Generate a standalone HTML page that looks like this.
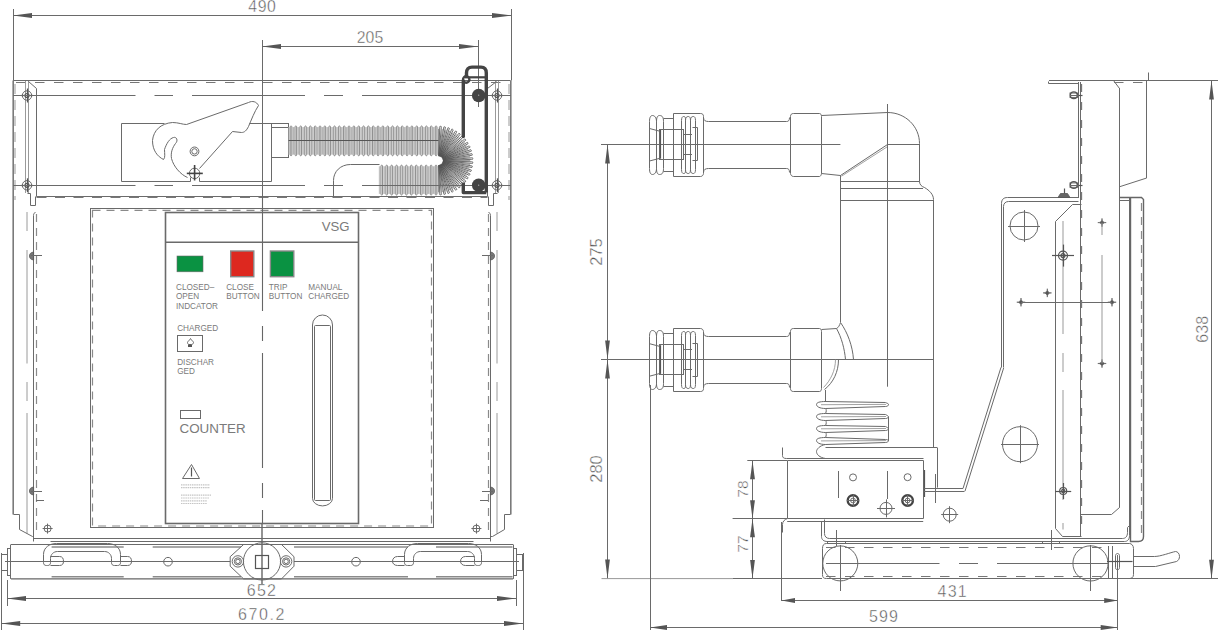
<!DOCTYPE html><html><head><meta charset="utf-8"><style>
html,body{margin:0;padding:0;background:#fff;width:1218px;height:630px;overflow:hidden}
svg{display:block;position:absolute;left:0;top:0}
.s{stroke:#6a6a6a;stroke-width:1;fill:none}
.sl{stroke:#8a8a8a;stroke-width:0.8;fill:none}
.s2{stroke:#7a7a7a;stroke-width:1.6;fill:none}
.s15{stroke:#666;stroke-width:1.4;fill:none}
.sd{stroke:#555;stroke-width:1.2;fill:none}
.sp{stroke:#6a6a6a;stroke-width:1.6;fill:none}
.dsh{stroke:#777;stroke-width:1.1;fill:none;stroke-dasharray:9.5 9.5}
.dsh2{stroke:#8a8a8a;stroke-width:1.2;fill:none;stroke-dasharray:8 6}
.dsh3{stroke:#999;stroke-width:1;fill:none;stroke-dasharray:10 6}
.nut{fill:none;stroke:#555;stroke-width:0.9}
.dsh4{stroke:#777;stroke-width:1.3;fill:none;stroke-dasharray:8 10}
.sl2{stroke:#999;stroke-width:1;fill:none}
.nutf{fill:#666;stroke:#555;stroke-width:0.8}
.rl{stroke:#8a8a8a;stroke-width:1.6;fill:none}
.wfs{fill:none;stroke:#6a6a6a;stroke-width:1}
.dsh5{stroke:#777;stroke-width:1.5;fill:none;stroke-dasharray:10 8.5}
.sl3{stroke:#9a9a9a;stroke-width:1;fill:none}
.sdk{stroke:#444;stroke-width:1.6;fill:none}
.blob{fill:#777;stroke:#555;stroke-width:0.8}
.ldsh{stroke:#888;stroke-width:1;fill:none;stroke-dasharray:50 18}
.cl{stroke:#666;stroke-width:1;fill:none;stroke-dasharray:113 19 19 19;stroke-dashoffset:9}
.cl2{stroke:#777;stroke-width:1;fill:none;stroke-dasharray:40 12 20 12}
.cld{stroke:#666;stroke-width:1.1;fill:none;stroke-dasharray:115 15 15 12}
.ar{fill:#555;stroke:none}
.tx{fill:#555;font-family:"Liberation Sans",sans-serif;stroke:#fff;stroke-width:0.4}
.tl{fill:#7a7a7a;font-family:"Liberation Sans",sans-serif}
.bfill{fill:#dcdcdc;stroke:none}
.bridge{fill:#fff;stroke:#5a5a5a;stroke-width:0.65}
.fan2{stroke:#555;stroke-width:0.6;fill:none}
.wfill{fill:#fff;stroke:none}
.wdot{fill:#bbb;stroke:none}
.bl{stroke:#888;stroke-width:0.7}
.bl2{stroke:#8a8a8a;stroke-width:0.5;fill:none}
.bs{stroke:#777;stroke-width:0.8;fill:none}
.fan{stroke:#4a4a4a;stroke-width:0.8;fill:none}
.thk{stroke:#444;stroke-width:3.4;fill:none;stroke-linejoin:round}
.thk2{stroke:#444;stroke-width:2.2;fill:none}
.thk15{stroke:#444;stroke-width:2.4;fill:none}
.dk{fill:#444;stroke:none}
.dkf{fill:#555;stroke:none}
.w{stroke:#999;stroke-width:0.6}
.grn{fill:#0a9242;stroke:#6a6a6a;stroke-width:0.6}
.grn2{fill:#0a9242;stroke:#888;stroke-width:1.4}
.red{fill:#dd281f;stroke:#888;stroke-width:1.4}
.tiny{stroke:#c4c4c4;stroke-width:1.2;stroke-dasharray:1.5 0.7}
.starf{fill:#555;stroke:#555;stroke-width:0.6}
</style></head><body><svg width="1218" height="630" viewBox="0 0 1218 630"><line x1="13.5" y1="9" x2="13.5" y2="80.5" class="s" />
<line x1="511.5" y1="9" x2="511.5" y2="80.5" class="s" />
<line x1="13" y1="15.5" x2="511" y2="15.5" class="s" />
<polygon points="13,15.5 32,13.1 32,17.9" class="ar"/>
<polygon points="511,15.5 492,13.1 492,17.9" class="ar"/>
<text x="262.3" y="11.6" font-size="15.8" text-anchor="middle" class="tx" letter-spacing="0.5">490</text>
<line x1="262.5" y1="40" x2="262.5" y2="196" class="s" />
<line x1="478.5" y1="40" x2="478.5" y2="107" class="s" />
<line x1="262" y1="46.5" x2="478" y2="46.5" class="s" />
<polygon points="262,46.5 281,44.1 281,48.9" class="ar"/>
<polygon points="478,46.5 459,44.1 459,48.9" class="ar"/>
<text x="370" y="42.8" font-size="15.8" text-anchor="middle" class="tx" >205</text>
<line x1="7.5" y1="580" x2="7.5" y2="606" class="s" />
<line x1="516.5" y1="580" x2="516.5" y2="606" class="s" />
<line x1="7" y1="598.5" x2="516" y2="598.5" class="s" />
<polygon points="7,598.5 26,596.1 26,600.9" class="ar"/>
<polygon points="516,598.5 497,596.1 497,600.9" class="ar"/>
<text x="262" y="595.8" font-size="16" text-anchor="middle" class="tx" letter-spacing="1.2">652</text>
<line x1="1.5" y1="553" x2="1.5" y2="630" class="s" />
<line x1="523.5" y1="553" x2="523.5" y2="630" class="s" />
<line x1="1.2" y1="623.5" x2="523" y2="623.5" class="s" />
<polygon points="1.2,623.5 20.2,621.1 20.2,625.9" class="ar"/>
<polygon points="523,623.5 504,621.1 504,625.9" class="ar"/>
<text x="262" y="619.8" font-size="16" text-anchor="middle" class="tx" letter-spacing="1.6">670.2</text>
<line x1="13" y1="80.5" x2="510.5" y2="80.5" class="s" />
<line x1="16" y1="82.5" x2="508" y2="82.5" class="dsh" />
<line x1="13.2" y1="80.5" x2="13.2" y2="514.5" class="s2" />
<line x1="15" y1="84" x2="15" y2="200" class="dsh3" />
<line x1="510.8" y1="80.5" x2="510.8" y2="514.5" class="s2" />
<line x1="509" y1="84" x2="509" y2="200" class="dsh3" />
<line x1="25.5" y1="81" x2="25.5" y2="193" class="sl3" />
<line x1="28.5" y1="81" x2="28.5" y2="193" class="sl3" />
<path d="M28.5,81.5 L36.5,88.5 V196.5" class="s" />
<path d="M27.5,193.5 H30.5 V205.5 H35.5 V196.5" class="s" />
<line x1="498.5" y1="81" x2="498.5" y2="193" class="sl3" />
<line x1="495.5" y1="81" x2="495.5" y2="193" class="sl3" />
<path d="M496.5,81.5 L487.5,88.5 V196.5" class="s" />
<path d="M497.5,193.5 H493.5 V205.5 H488.5 V196.5" class="s" />
<circle cx="27" cy="95.5" r="4.7" class="s" />
<circle cx="27" cy="95.5" r="2" class="sd" />
<line x1="21" y1="95.5" x2="33" y2="95.5" class="sd" />
<line x1="27.5" y1="88.5" x2="27.5" y2="102.5" class="sd" />
<circle cx="27" cy="185.3" r="4.7" class="s" />
<circle cx="27" cy="185.3" r="2" class="sd" />
<line x1="21" y1="185.5" x2="33" y2="185.5" class="sd" />
<line x1="27.5" y1="178.3" x2="27.5" y2="192.3" class="sd" />
<circle cx="497" cy="95.5" r="4.7" class="s" />
<circle cx="497" cy="95.5" r="2" class="sd" />
<line x1="491" y1="95.5" x2="503" y2="95.5" class="sd" />
<line x1="497.5" y1="88.5" x2="497.5" y2="102.5" class="sd" />
<circle cx="497" cy="185.3" r="4.7" class="s" />
<circle cx="497" cy="185.3" r="2" class="sd" />
<line x1="491" y1="185.5" x2="503" y2="185.5" class="sd" />
<line x1="497.5" y1="178.3" x2="497.5" y2="192.3" class="sd" />
<line x1="36.5" y1="196.5" x2="487.5" y2="196.5" class="s" />
<line x1="36.5" y1="197.3" x2="487.5" y2="197.3" class="dsh5" />
<path d="M164.5,123.5 H121.5 V181.5 H190.5 V177.5 M199.5,177.5 V181.5 H271.5 V123.5 H249.5" class="s" />
<path d="M163.5,159.5 C157.5,156.5 152.5,150.5 152.5,140.5 C153.5,130.5 160.5,123.5 172.5,122.5 C178.5,122.5 182.5,124.5 186.5,124.5 L248.5,102.5 C252.5,100.5 256.5,101.5 258.5,105.5 C254.5,111.5 251.5,119.5 248.5,126.5 C246.5,130.5 244.5,132.5 241.5,132.5 C238.5,132.5 235.5,131.5 232.5,131.5 L199.5,168.5 M187.5,177.5 C180.5,174.5 173.5,166.5 171.5,158.5 C170.5,152.5 172.5,147.5 175.5,143.5 C178.5,140.5 176.5,136.5 173.5,137.5 C169.5,138.5 166.5,143.5 164.5,149.5 C164.5,153.5 165.5,157.5 163.5,159.5" class="s" />
<circle cx="194.5" cy="151.4" r="4.4" class="s" />
<circle cx="194.5" cy="151.4" r="2.7" class="s" />
<circle cx="194.6" cy="173.4" r="5.2" class="s" />
<line x1="186.8" y1="173.4" x2="202.8" y2="173.4" class="sdk" />
<line x1="194.6" y1="165" x2="194.6" y2="180.5" class="sdk" />
<rect x="271.5" y="123.5" width="17" height="34" class="s" />
<line x1="271.4" y1="127.5" x2="288.6" y2="127.5" class="s" />
<path d="M333.5,197.5 V180.5 C333.5,171.5 340.5,164.5 350.5,164.5 H379.5" class="s" />
<rect x="288.6" y="127" width="149.9" height="27.7" class="bfill" />
<path d="M290.27,155 V126.7 A0.75,0.75 0 0 1 291.77,126.7 V155 A0.75,0.75 0 0 1 290.27,155 Z M295.1,155 V126.7 A0.75,0.75 0 0 1 296.6,126.7 V155 A0.75,0.75 0 0 1 295.1,155 Z M299.94,155 V126.7 A0.75,0.75 0 0 1 301.44,126.7 V155 A0.75,0.75 0 0 1 299.94,155 Z M304.77,155 V126.7 A0.75,0.75 0 0 1 306.27,126.7 V155 A0.75,0.75 0 0 1 304.77,155 Z M309.61,155 V126.7 A0.75,0.75 0 0 1 311.11,126.7 V155 A0.75,0.75 0 0 1 309.61,155 Z M314.45,155 V126.7 A0.75,0.75 0 0 1 315.95,126.7 V155 A0.75,0.75 0 0 1 314.45,155 Z M319.28,155 V126.7 A0.75,0.75 0 0 1 320.78,126.7 V155 A0.75,0.75 0 0 1 319.28,155 Z M324.12,155 V126.7 A0.75,0.75 0 0 1 325.62,126.7 V155 A0.75,0.75 0 0 1 324.12,155 Z M328.95,155 V126.7 A0.75,0.75 0 0 1 330.45,126.7 V155 A0.75,0.75 0 0 1 328.95,155 Z M333.79,155 V126.7 A0.75,0.75 0 0 1 335.29,126.7 V155 A0.75,0.75 0 0 1 333.79,155 Z M338.62,155 V126.7 A0.75,0.75 0 0 1 340.12,126.7 V155 A0.75,0.75 0 0 1 338.62,155 Z M343.46,155 V126.7 A0.75,0.75 0 0 1 344.96,126.7 V155 A0.75,0.75 0 0 1 343.46,155 Z M348.29,155 V126.7 A0.75,0.75 0 0 1 349.79,126.7 V155 A0.75,0.75 0 0 1 348.29,155 Z M353.13,155 V126.7 A0.75,0.75 0 0 1 354.63,126.7 V155 A0.75,0.75 0 0 1 353.13,155 Z M357.96,155 V126.7 A0.75,0.75 0 0 1 359.46,126.7 V155 A0.75,0.75 0 0 1 357.96,155 Z M362.8,155 V126.7 A0.75,0.75 0 0 1 364.3,126.7 V155 A0.75,0.75 0 0 1 362.8,155 Z M367.64,155 V126.7 A0.75,0.75 0 0 1 369.14,126.7 V155 A0.75,0.75 0 0 1 367.64,155 Z M372.47,155 V126.7 A0.75,0.75 0 0 1 373.97,126.7 V155 A0.75,0.75 0 0 1 372.47,155 Z M377.31,155 V126.7 A0.75,0.75 0 0 1 378.81,126.7 V155 A0.75,0.75 0 0 1 377.31,155 Z M382.14,155 V126.7 A0.75,0.75 0 0 1 383.64,126.7 V155 A0.75,0.75 0 0 1 382.14,155 Z M386.98,155 V126.7 A0.75,0.75 0 0 1 388.48,126.7 V155 A0.75,0.75 0 0 1 386.98,155 Z M391.81,155 V126.7 A0.75,0.75 0 0 1 393.31,126.7 V155 A0.75,0.75 0 0 1 391.81,155 Z M396.65,155 V126.7 A0.75,0.75 0 0 1 398.15,126.7 V155 A0.75,0.75 0 0 1 396.65,155 Z M401.48,155 V126.7 A0.75,0.75 0 0 1 402.98,126.7 V155 A0.75,0.75 0 0 1 401.48,155 Z M406.32,155 V126.7 A0.75,0.75 0 0 1 407.82,126.7 V155 A0.75,0.75 0 0 1 406.32,155 Z M411.15,155 V126.7 A0.75,0.75 0 0 1 412.65,126.7 V155 A0.75,0.75 0 0 1 411.15,155 Z M415.99,155 V126.7 A0.75,0.75 0 0 1 417.49,126.7 V155 A0.75,0.75 0 0 1 415.99,155 Z M420.83,155 V126.7 A0.75,0.75 0 0 1 422.33,126.7 V155 A0.75,0.75 0 0 1 420.83,155 Z M425.66,155 V126.7 A0.75,0.75 0 0 1 427.16,126.7 V155 A0.75,0.75 0 0 1 425.66,155 Z M430.5,155 V126.7 A0.75,0.75 0 0 1 432,126.7 V155 A0.75,0.75 0 0 1 430.5,155 Z M435.33,155 V126.7 A0.75,0.75 0 0 1 436.83,126.7 V155 A0.75,0.75 0 0 1 435.33,155 Z " class="bridge" />
<path d="M288.6,127.2 V154.5 M293.44,127.2 V154.5 M298.27,127.2 V154.5 M303.11,127.2 V154.5 M307.94,127.2 V154.5 M312.78,127.2 V154.5 M317.61,127.2 V154.5 M322.45,127.2 V154.5 M327.28,127.2 V154.5 M332.12,127.2 V154.5 M336.95,127.2 V154.5 M341.79,127.2 V154.5 M346.63,127.2 V154.5 M351.46,127.2 V154.5 M356.3,127.2 V154.5 M361.13,127.2 V154.5 M365.97,127.2 V154.5 M370.8,127.2 V154.5 M375.64,127.2 V154.5 M380.47,127.2 V154.5 M385.31,127.2 V154.5 M390.15,127.2 V154.5 M394.98,127.2 V154.5 M399.82,127.2 V154.5 M404.65,127.2 V154.5 M409.49,127.2 V154.5 M414.32,127.2 V154.5 M419.16,127.2 V154.5 M423.99,127.2 V154.5 M428.83,127.2 V154.5 M433.66,127.2 V154.5 " class="bl2" />
<line x1="288.6" y1="140.5" x2="438.5" y2="140.5" class="sd" />
<rect x="379.3" y="166.2" width="59.2" height="27.8" class="bfill" />
<path d="M381.02,194.3 V165.9 A0.75,0.75 0 0 1 382.52,165.9 V194.3 A0.75,0.75 0 0 1 381.02,194.3 Z M385.95,194.3 V165.9 A0.75,0.75 0 0 1 387.45,165.9 V194.3 A0.75,0.75 0 0 1 385.95,194.3 Z M390.88,194.3 V165.9 A0.75,0.75 0 0 1 392.38,165.9 V194.3 A0.75,0.75 0 0 1 390.88,194.3 Z M395.82,194.3 V165.9 A0.75,0.75 0 0 1 397.32,165.9 V194.3 A0.75,0.75 0 0 1 395.82,194.3 Z M400.75,194.3 V165.9 A0.75,0.75 0 0 1 402.25,165.9 V194.3 A0.75,0.75 0 0 1 400.75,194.3 Z M405.68,194.3 V165.9 A0.75,0.75 0 0 1 407.18,165.9 V194.3 A0.75,0.75 0 0 1 405.68,194.3 Z M410.62,194.3 V165.9 A0.75,0.75 0 0 1 412.12,165.9 V194.3 A0.75,0.75 0 0 1 410.62,194.3 Z M415.55,194.3 V165.9 A0.75,0.75 0 0 1 417.05,165.9 V194.3 A0.75,0.75 0 0 1 415.55,194.3 Z M420.48,194.3 V165.9 A0.75,0.75 0 0 1 421.98,165.9 V194.3 A0.75,0.75 0 0 1 420.48,194.3 Z M425.42,194.3 V165.9 A0.75,0.75 0 0 1 426.92,165.9 V194.3 A0.75,0.75 0 0 1 425.42,194.3 Z M430.35,194.3 V165.9 A0.75,0.75 0 0 1 431.85,165.9 V194.3 A0.75,0.75 0 0 1 430.35,194.3 Z M435.28,194.3 V165.9 A0.75,0.75 0 0 1 436.78,165.9 V194.3 A0.75,0.75 0 0 1 435.28,194.3 Z " class="bridge" />
<path d="M379.3,166.4 V193.8 M384.23,166.4 V193.8 M389.17,166.4 V193.8 M394.1,166.4 V193.8 M399.03,166.4 V193.8 M403.97,166.4 V193.8 M408.9,166.4 V193.8 M413.83,166.4 V193.8 M418.77,166.4 V193.8 M423.7,166.4 V193.8 M428.63,166.4 V193.8 M433.57,166.4 V193.8 " class="bl2" />
<path d="M438.75,156.11 L439.71,127.42 A0.85,0.85 0 1 1 441.3,127.52 L438.79,156.11 M439.29,156.17 L443.7,127.81 A0.85,0.85 0 1 1 445.27,128.1 L439.33,156.18 M439.82,156.3 L447.61,128.67 A0.85,0.85 0 1 1 449.14,129.15 L439.86,156.31 M440.33,156.49 L451.39,130.01 A0.85,0.85 0 1 1 452.85,130.66 L440.37,156.51 M440.81,156.74 L454.99,131.78 A0.85,0.85 0 1 1 456.36,132.61 L440.85,156.76 M441.26,157.04 L458.34,133.98 A0.85,0.85 0 1 1 459.6,134.97 L441.29,157.07 M441.67,157.4 L461.4,136.57 A0.85,0.85 0 1 1 462.53,137.7 L441.7,157.43 M442.03,157.81 L464.13,139.5 A0.85,0.85 0 1 1 465.12,140.76 L442.06,157.84 M442.34,158.25 L466.49,142.74 A0.85,0.85 0 1 1 467.32,144.11 L442.36,158.29 M442.59,158.73 L468.44,146.25 A0.85,0.85 0 1 1 469.09,147.71 L442.61,158.77 M442.79,159.24 L469.95,149.96 A0.85,0.85 0 1 1 470.43,151.49 L442.8,159.28 M442.92,159.77 L471,153.83 A0.85,0.85 0 1 1 471.29,155.4 L442.93,159.81 M442.99,160.31 L471.58,157.8 A0.85,0.85 0 1 1 471.68,159.39 L442.99,160.35 M442.99,160.85 L471.68,161.81 A0.85,0.85 0 1 1 471.58,163.4 L442.99,160.89 M442.93,161.39 L471.29,165.8 A0.85,0.85 0 1 1 471,167.37 L442.92,161.43 M442.8,161.92 L470.43,169.71 A0.85,0.85 0 1 1 469.95,171.24 L442.79,161.96 M442.61,162.43 L469.09,173.49 A0.85,0.85 0 1 1 468.44,174.95 L442.59,162.47 M442.36,162.91 L467.32,177.09 A0.85,0.85 0 1 1 466.49,178.46 L442.34,162.95 M442.06,163.36 L465.12,180.44 A0.85,0.85 0 1 1 464.13,181.7 L442.03,163.39 M441.7,163.77 L462.53,183.5 A0.85,0.85 0 1 1 461.4,184.63 L441.67,163.8 M441.29,164.13 L459.6,186.23 A0.85,0.85 0 1 1 458.34,187.22 L441.26,164.16 M440.85,164.44 L456.36,188.59 A0.85,0.85 0 1 1 454.99,189.42 L440.81,164.46 M440.37,164.69 L452.85,190.54 A0.85,0.85 0 1 1 451.39,191.19 L440.33,164.71 M439.86,164.89 L449.14,192.05 A0.85,0.85 0 1 1 447.61,192.53 L439.82,164.9 M439.33,165.02 L445.27,193.1 A0.85,0.85 0 1 1 443.7,193.39 L439.29,165.03 M438.79,165.09 L441.3,193.68 A0.85,0.85 0 1 1 439.71,193.78 L438.75,165.09 " class="fan" />
<path d="M438.5,155.6 L438.5,128.9 M439.1,155.64 L442.32,129.13 M439.7,155.75 L446.09,129.82 M440.27,155.92 L449.74,130.96 M440.82,156.17 L453.23,132.53 M441.34,156.49 L456.51,134.51 M441.82,156.86 L459.52,136.87 M442.24,157.28 L462.23,139.58 M442.61,157.76 L464.59,142.59 M442.93,158.28 L466.57,145.87 M443.18,158.83 L468.14,149.36 M443.35,159.4 L469.28,153.01 M443.46,160 L469.97,156.78 M443.5,160.6 L470.2,160.6 M443.46,161.2 L469.97,164.42 M443.35,161.8 L469.28,168.19 M443.18,162.37 L468.14,171.84 M442.93,162.92 L466.57,175.33 M442.61,163.44 L464.59,178.61 M442.24,163.92 L462.23,181.62 M441.82,164.34 L459.52,184.33 M441.34,164.71 L456.51,186.69 M440.82,165.03 L453.23,188.67 M440.27,165.28 L449.74,190.24 M439.7,165.45 L446.09,191.38 M439.1,165.56 L442.32,192.07 M438.5,165.6 L438.5,192.3 " class="fan2" />
<circle cx="437.5" cy="160.6" r="3.2" class="wfill" />
<line x1="13" y1="95.5" x2="135.5" y2="95.5" class="s" />
<line x1="154.5" y1="95.5" x2="173" y2="95.5" class="s" />
<line x1="192" y1="95.5" x2="305" y2="95.5" class="s" />
<line x1="324" y1="95.5" x2="343" y2="95.5" class="s" />
<line x1="362" y1="95.5" x2="511" y2="95.5" class="s" />
<line x1="13" y1="185.5" x2="135.5" y2="185.5" class="s" />
<line x1="154.5" y1="185.5" x2="173" y2="185.5" class="s" />
<line x1="192" y1="185.5" x2="305" y2="185.5" class="s" />
<line x1="324" y1="185.5" x2="343" y2="185.5" class="s" />
<line x1="362" y1="185.5" x2="511" y2="185.5" class="s" />
<path d="M463.3,136.6 V81" class="thk" stroke-linecap="round"/>
<path d="M466.5,77.6 V73 C466.5,69.5 468.5,67.1 472,67.1 H481 C484.5,67.1 486.3,69.5 486.3,73 V192.6" class="thk" />
<path d="M463.3,182.5 V192.6 H486.3" class="thk" />
<line x1="465" y1="77.3" x2="486" y2="77.3" class="thk2" />
<circle cx="466.2" cy="79.5" r="3.2" class="thk15" />
<circle cx="478.7" cy="95.5" r="6.8" class="dk" />
<circle cx="478.7" cy="185.2" r="6.8" class="dk" />
<circle cx="478.7" cy="95.2" r="0.6" class="wdot" />
<circle cx="478.7" cy="185.2" r="0.6" class="wdot" />
<path d="M33.5,537.5 V215.5 C33.5,213.5 34.5,212.5 35.5,212.5" class="s" />
<line x1="36.5" y1="214" x2="36.5" y2="532" class="dsh2" />
<line x1="27" y1="212" x2="27" y2="231" class="sl3" />
<line x1="27" y1="250" x2="27" y2="363.5" class="sl3" />
<line x1="27" y1="382" x2="27" y2="401" class="sl3" />
<line x1="27" y1="413" x2="27" y2="524" class="sl3" />
<line x1="27" y1="524" x2="27" y2="533.5" class="sl3" />
<path d="M13.5,514.5 H19.5 V529.5 L32.5,536.5 H33.5 V541.5" class="s" />
<path d="M33.6,252 C30.5,252.5 29.5,254 29.5,256 C29.5,258 30.5,259.5 33.6,260 Z" class="blob" />
<line x1="31" y1="255.5" x2="42" y2="255.5" class="s" />
<path d="M33.6,487 C30.5,487.5 29.5,489 29.5,491 C29.5,493 30.5,494.5 33.6,495 Z" class="blob" />
<line x1="31" y1="491.5" x2="42" y2="491.5" class="s" />
<line x1="36" y1="500.5" x2="44" y2="500.5" class="s" />
<circle cx="47.6" cy="528.6" r="3.5" class="s" />
<line x1="42.6" y1="528.5" x2="52.6" y2="528.5" class="s" />
<line x1="47.5" y1="523.6" x2="47.5" y2="533.6" class="s" />
<path d="M490.5,537.5 V215.5 C490.5,213.5 489.5,212.5 488.5,212.5" class="s" />
<line x1="488.5" y1="214" x2="488.5" y2="532" class="dsh2" />
<line x1="497" y1="212" x2="497" y2="231" class="sl3" />
<line x1="497" y1="250" x2="497" y2="363.5" class="sl3" />
<line x1="497" y1="382" x2="497" y2="401" class="sl3" />
<line x1="497" y1="413" x2="497" y2="524" class="sl3" />
<line x1="497" y1="524" x2="497" y2="533.5" class="sl3" />
<path d="M510.5,514.5 H504.5 V529.5 L492.5,536.5 H490.5 V541.5" class="s" />
<path d="M490.4,252 C493.5,252.5 494.5,254 494.5,256 C494.5,258 493.5,259.5 490.4,260 Z" class="blob" />
<line x1="493" y1="255.5" x2="482" y2="255.5" class="s" />
<path d="M490.4,487 C493.5,487.5 494.5,489 494.5,491 C494.5,493 493.5,494.5 490.4,495 Z" class="blob" />
<line x1="493" y1="491.5" x2="482" y2="491.5" class="s" />
<line x1="488" y1="500.5" x2="480" y2="500.5" class="s" />
<circle cx="476.4" cy="528.6" r="3.5" class="s" />
<line x1="471.4" y1="528.5" x2="481.4" y2="528.5" class="s" />
<line x1="476.5" y1="523.6" x2="476.5" y2="533.6" class="s" />
<rect x="90.5" y="208.5" width="343" height="319" class="s" />
<path d="M92.5,210.4 H431.5 V526 H92.5 Z" class="dsh2" />
<line x1="33.6" y1="538.5" x2="490.4" y2="538.5" class="s" />
<line x1="50.5" y1="541.5" x2="473.5" y2="541.5" class="s" />
<line x1="262.5" y1="196" x2="262.5" y2="523" class="cld" />
<line x1="262" y1="523" x2="262" y2="584" class="s15" />
<rect x="165.5" y="212.5" width="193" height="311" class="sp" />
<line x1="165.5" y1="242.2" x2="358.5" y2="242.2" class="sp" />
<text x="349.5" y="231" font-size="13.2" text-anchor="end" class="tl" >VSG</text>
<rect x="177" y="256" width="26" height="15.8" class="grn" />
<rect x="230.7" y="251" width="23.1" height="25.7" class="red" />
<rect x="270.4" y="251" width="23.4" height="25.7" class="grn2" />
<text x="176" y="290.2" font-size="8.2" text-anchor="start" class="tl" >CLOSED–</text>
<text x="176" y="298.9" font-size="8.2" text-anchor="start" class="tl" >OPEN</text>
<text x="176" y="308.8" font-size="8.2" text-anchor="start" class="tl" >INDCATOR</text>
<text x="226.2" y="290.2" font-size="8.2" text-anchor="start" class="tl" >CLOSE</text>
<text x="226.2" y="298.9" font-size="8.2" text-anchor="start" class="tl" >BUTTON</text>
<text x="268.8" y="290.2" font-size="8.2" text-anchor="start" class="tl" >TRIP</text>
<text x="268.8" y="298.9" font-size="8.2" text-anchor="start" class="tl" >BUTTON</text>
<text x="308.3" y="290.2" font-size="8.2" text-anchor="start" class="tl" >MANUAL</text>
<text x="308.3" y="298.9" font-size="8.2" text-anchor="start" class="tl" >CHARGED</text>
<text x="177.2" y="331" font-size="8.2" text-anchor="start" class="tl" >CHARGED</text>
<rect x="177.5" y="335.5" width="25" height="16" class="s" />
<path d="M190.5,338.5 C191.5,340.5 193.5,341.5 193.5,342.5 C193.5,343.5 192.5,344.5 191.5,344.5 H188.5 C188.5,344.5 187.5,343.5 187.5,342.5 C187.5,341.5 189.5,340.5 190.5,338.5 Z" class="s" />
<rect x="188" y="344.6" width="4" height="2.4" class="dkf" />
<text x="177.2" y="365.2" font-size="8.2" text-anchor="start" class="tl" >DISCHAR</text>
<text x="177.2" y="373.9" font-size="8.2" text-anchor="start" class="tl" >GED</text>
<rect x="180.5" y="410.5" width="20" height="8" class="s" />
<text x="179.5" y="432.9" font-size="13.4" text-anchor="start" class="tl" >COUNTER</text>
<path d="M312.5,498.3 V325 A10,10 0 0 1 332.5,325 V498.3 A10,7.6 0 0 1 312.5,498.3 Z" class="s" />
<rect x="314.5" y="325.5" width="16" height="175" class="s" rx="1"/>
<path d="M191.5,464.5 L199.5,478.5 H182.5 Z" class="s" />
<line x1="191.5" y1="467.5" x2="191.5" y2="476.5" class="sd" />
<line x1="181" y1="484.9" x2="210" y2="484.9" class="tiny" />
<line x1="181" y1="487.7" x2="210" y2="487.7" class="tiny" />
<line x1="181" y1="495.2" x2="211" y2="495.2" class="tiny" />
<line x1="181" y1="498" x2="209" y2="498" class="tiny" />
<line x1="181" y1="500.8" x2="207" y2="500.8" class="tiny" />
<line x1="181" y1="503.5" x2="207" y2="503.5" class="tiny" />
<line x1="11" y1="544.5" x2="513" y2="544.5" class="s" />
<line x1="11" y1="578.9" x2="513" y2="578.9" class="s15" />
<line x1="10.5" y1="544.5" x2="10.5" y2="578.9" class="s" />
<line x1="513.5" y1="544.5" x2="513.5" y2="578.9" class="s" />
<line x1="51.6" y1="547" x2="123.7" y2="547" class="rl" />
<line x1="152.7" y1="547" x2="241" y2="547" class="rl" />
<line x1="294" y1="547" x2="408" y2="547" class="rl" />
<line x1="436" y1="547" x2="512.5" y2="547" class="rl" />
<line x1="51.6" y1="576.7" x2="123.7" y2="576.7" class="rl" />
<line x1="152.7" y1="576.7" x2="241" y2="576.7" class="rl" />
<line x1="294" y1="576.7" x2="408" y2="576.7" class="rl" />
<line x1="436" y1="576.7" x2="512.5" y2="576.7" class="rl" />
<line x1="5" y1="561.5" x2="230.2" y2="561.5" class="s" />
<line x1="294" y1="561.5" x2="519" y2="561.5" class="s" />
<rect x="7.5" y="548.5" width="3" height="27" class="s" />
<rect x="513.5" y="548.5" width="3" height="27" class="s" />
<rect x="1.5" y="554.5" width="6" height="16" class="s" />
<rect x="516.5" y="554.5" width="6" height="16" class="s" />
<path d="M43.5,562.5 V554.5 C43.5,547.5 49.5,543.5 56.5,543.5 H107.5 C114.5,543.5 120.5,547.5 120.5,554.5 V562.5 C120.5,564.5 119.5,565.5 117.5,565.5 H114.5 C112.5,565.5 111.5,564.5 111.5,562.5 V558.5 C111.5,554.5 108.5,551.5 104.5,551.5 H57.5 C53.5,551.5 50.5,554.5 50.5,558.5 V562.5 C50.5,564.5 49.5,565.5 47.5,565.5 H46.5 C44.5,565.5 43.5,564.5 43.5,562.5" class="s" />
<path d="M50.5,556.5 H59.5 C62.5,556.5 63.5,558.5 63.5,561.5 C63.5,563.5 62.5,565.5 59.5,565.5 H50.5" class="s" />
<path d="M120.5,556.5 H127.5 C130.5,556.5 131.5,558.5 131.5,561.5 C131.5,563.5 130.5,565.5 127.5,565.5 H120.5" class="s" />
<circle cx="168" cy="561.7" r="4.3" class="s" />
<path d="M481.5,562.5 V554.5 C481.5,547.5 475.5,543.5 468.5,543.5 H417.5 C410.5,543.5 404.5,547.5 404.5,554.5 V562.5 C404.5,564.5 405.5,565.5 407.5,565.5 H410.5 C412.5,565.5 413.5,564.5 413.5,562.5 V558.5 C413.5,554.5 416.5,551.5 420.5,551.5 H467.5 C471.5,551.5 474.5,554.5 474.5,558.5 V562.5 C474.5,564.5 475.5,565.5 477.5,565.5 H478.5 C480.5,565.5 481.5,564.5 481.5,562.5" class="s" />
<path d="M474.5,556.5 H465.5 C462.5,556.5 460.5,558.5 460.5,561.5 C460.5,563.5 462.5,565.5 465.5,565.5 H474.5" class="s" />
<path d="M404.5,556.5 H397.5 C394.5,556.5 392.5,558.5 392.5,561.5 C392.5,563.5 394.5,565.5 397.5,565.5 H404.5" class="s" />
<circle cx="356" cy="561.7" r="4.3" class="s" />
<path d="M243.6,544.5 L230.2,556.7 V566.2 L243.6,578.9 H281.5 L294,566.2 V556.7 L281.5,544.5" class="wfs" />
<circle cx="262" cy="561.4" r="18.6" class="s" />
<rect x="255.5" y="555.5" width="13" height="13" class="sd" />
<circle cx="237.9" cy="561.4" r="5.7" class="s" />
<circle cx="237.9" cy="561.4" r="3.6" class="s" />
<circle cx="237.9" cy="561.4" r="2.2" class="s" />
<circle cx="286.1" cy="561.4" r="5.7" class="s" />
<circle cx="286.1" cy="561.4" r="3.6" class="s" />
<circle cx="286.1" cy="561.4" r="2.2" class="s" />
<line x1="607.5" y1="144.4" x2="607.5" y2="578.6" class="s" />
<polygon points="607.5,144.4 605.1,163.4 609.9,163.4" class="ar"/>
<polygon points="607.5,359.6 605.1,340.6 609.9,340.6" class="ar"/>
<polygon points="607.5,359.6 605.1,378.6 609.9,378.6" class="ar"/>
<polygon points="607.5,578.6 605.1,559.6 609.9,559.6" class="ar"/>
<line x1="601" y1="144.5" x2="840.4" y2="144.5" class="s" />
<line x1="601" y1="359.5" x2="933.5" y2="359.5" class="s" />
<line x1="601.5" y1="578.6" x2="733" y2="578.6" class="sl2" />
<line x1="733" y1="578.5" x2="822" y2="578.5" class="s" />
<text x="602.2" y="252" font-size="16.5" text-anchor="middle" class="tx" transform="rotate(-90 602.2 252)">275</text>
<text x="601.7" y="469" font-size="16.5" text-anchor="middle" class="tx" transform="rotate(-90 601.7 469)">280</text>
<line x1="1148" y1="80.5" x2="1218" y2="80.5" class="s" />
<line x1="1128" y1="578.5" x2="1218" y2="578.5" class="s" />
<line x1="1211.5" y1="80.5" x2="1211.5" y2="578.8" class="s" />
<polygon points="1211.5,80.5 1209.1,99.5 1213.9,99.5" class="ar"/>
<polygon points="1211.5,578.8 1209.1,559.8 1213.9,559.8" class="ar"/>
<text x="1208.2" y="329.3" font-size="16" text-anchor="middle" class="tx" transform="rotate(-90 1208.2 329.3)">638</text>
<line x1="747.3" y1="460.5" x2="787.2" y2="460.5" class="s" />
<line x1="732.6" y1="518.5" x2="787.2" y2="518.5" class="s" />
<line x1="752.5" y1="460.8" x2="752.5" y2="578.6" class="s" />
<polygon points="752.5,460.8 750.1,479.3 754.9,479.3" class="ar"/>
<polygon points="752.5,518.7 750.1,500.2 754.9,500.2" class="ar"/>
<polygon points="752.5,518.7 750.1,537.2 754.9,537.2" class="ar"/>
<polygon points="752.5,578.6 750.1,560.1 754.9,560.1" class="ar"/>
<text x="748.3" y="489" font-size="15.5" text-anchor="middle" class="tx" transform="rotate(-90 748.3 489)">78</text>
<text x="748.3" y="544" font-size="15.5" text-anchor="middle" class="tx" transform="rotate(-90 748.3 544)">77</text>
<line x1="781.5" y1="522" x2="781.5" y2="601" class="s" />
<line x1="781.5" y1="600.5" x2="1117.7" y2="600.5" class="s" />
<polygon points="781.5,600.5 795,598.1 795,602.9" class="ar"/>
<polygon points="1117.7,600.5 1104.2,598.1 1104.2,602.9" class="ar"/>
<text x="952.7" y="597" font-size="16" text-anchor="middle" class="tx" letter-spacing="1.2">431</text>
<line x1="650.5" y1="385" x2="650.5" y2="630" class="s" />
<line x1="650" y1="627.5" x2="1117.7" y2="627.5" class="s" />
<polygon points="650,627.5 667,625.1 667,629.9" class="ar"/>
<polygon points="1117.7,627.5 1100.7,625.1 1100.7,629.9" class="ar"/>
<text x="884" y="621.6" font-size="16" text-anchor="middle" class="tx" letter-spacing="1.1">599</text>
<line x1="1117.5" y1="555" x2="1117.5" y2="630" class="s" />
<path d="M649.5,121.5 C649.5,117.5 650.5,115.5 652.5,115.5 C654.5,115.5 656.5,117.5 656.5,121.5 V168.5 C656.5,172.5 654.5,174.5 652.5,174.5 C650.5,174.5 649.5,172.5 649.5,168.5 Z" class="s" />
<path d="M656.5,121.5 C656.5,117.5 657.5,115.5 659.5,115.5 C662.5,115.5 663.5,117.5 663.5,121.5 V168.5 C663.5,172.5 662.5,174.5 659.5,174.5 C657.5,174.5 656.5,172.5 656.5,168.5 Z" class="s" />
<line x1="649.5" y1="128.5" x2="659" y2="131" class="s" />
<line x1="649.5" y1="161" x2="659" y2="158.5" class="s" />
<line x1="663.5" y1="118.5" x2="673.3" y2="118.5" class="s" />
<line x1="663.5" y1="171.5" x2="673.3" y2="171.5" class="s" />
<rect x="659.5" y="129.5" width="24" height="30" class="s" />
<line x1="660.5" y1="130" x2="660.5" y2="158.7" class="sd" />
<path d="M673.5,113.5 H700.5 C702.5,113.5 703.5,114.5 703.5,116.5 V173.5 C703.5,174.5 702.5,176.5 700.5,176.5 H673.5 Z" class="s" />
<path d="M681.5,120.5 C681.5,117.5 682.5,116.5 683.5,116.5 C685.5,116.5 685.5,117.5 685.5,120.5 V169.5 C685.5,172.5 685.5,173.5 683.5,173.5 C682.5,173.5 681.5,172.5 681.5,169.5 Z" class="s" />
<path d="M685.5,120.5 C685.5,117.5 686.5,116.5 688.5,116.5 C689.5,116.5 690.5,117.5 690.5,120.5 V169.5 C690.5,172.5 689.5,173.5 688.5,173.5 C686.5,173.5 685.5,172.5 685.5,169.5 Z" class="s" />
<path d="M690.5,120.5 C690.5,117.5 691.5,116.5 693.5,116.5 C694.5,116.5 695.5,117.5 695.5,120.5 V169.5 C695.5,172.5 694.5,173.5 693.5,173.5 C691.5,173.5 690.5,172.5 690.5,169.5 Z" class="s" />
<path d="M692.5,127.5 H697.5 V160.5 H692.5" class="s" />
<line x1="683.2" y1="134.5" x2="692" y2="134.5" class="s" />
<line x1="683.2" y1="154.5" x2="692" y2="154.5" class="s" />
<path d="M703.5,117.5 C703.5,120.5 705.5,121.5 708.5,121.5 H786.5 C788.5,121.5 789.5,120.5 789.5,117.5" class="s" />
<path d="M703.5,172.5 C703.5,169.5 705.5,168.5 708.5,168.5 H786.5 C788.5,168.5 789.5,169.5 789.5,172.5" class="s" />
<path d="M793.5,113.5 H819.5 C820.5,113.5 821.5,114.5 821.5,116.5 V173.5 C821.5,174.5 820.5,176.5 819.5,176.5 H793.5 C791.5,176.5 790.5,174.5 790.5,173.5 V116.5 C790.5,114.5 791.5,113.5 793.5,113.5 Z" class="s" />
<path d="M649.5,336.5 C649.5,332.5 650.5,330.5 652.5,330.5 C654.5,330.5 656.5,332.5 656.5,336.5 V383.5 C656.5,387.5 654.5,389.5 652.5,389.5 C650.5,389.5 649.5,387.5 649.5,383.5 Z" class="s" />
<path d="M656.5,336.5 C656.5,332.5 657.5,330.5 659.5,330.5 C662.5,330.5 663.5,332.5 663.5,336.5 V383.5 C663.5,387.5 662.5,389.5 659.5,389.5 C657.5,389.5 656.5,387.5 656.5,383.5 Z" class="s" />
<line x1="649.5" y1="343.7" x2="659" y2="346.2" class="s" />
<line x1="649.5" y1="376.2" x2="659" y2="373.7" class="s" />
<line x1="663.5" y1="333.5" x2="673.3" y2="333.5" class="s" />
<line x1="663.5" y1="386.5" x2="673.3" y2="386.5" class="s" />
<rect x="659.5" y="344.5" width="24" height="30" class="s" />
<line x1="660.5" y1="345.2" x2="660.5" y2="373.9" class="sd" />
<path d="M673.5,328.5 H700.5 C702.5,328.5 703.5,330.5 703.5,331.5 V388.5 C703.5,390.5 702.5,391.5 700.5,391.5 H673.5 Z" class="s" />
<path d="M681.5,335.5 C681.5,332.5 682.5,331.5 683.5,331.5 C685.5,331.5 685.5,332.5 685.5,335.5 V384.5 C685.5,387.5 685.5,388.5 683.5,388.5 C682.5,388.5 681.5,387.5 681.5,384.5 Z" class="s" />
<path d="M685.5,335.5 C685.5,332.5 686.5,331.5 688.5,331.5 C689.5,331.5 690.5,332.5 690.5,335.5 V384.5 C690.5,387.5 689.5,388.5 688.5,388.5 C686.5,388.5 685.5,387.5 685.5,384.5 Z" class="s" />
<path d="M690.5,335.5 C690.5,332.5 691.5,331.5 693.5,331.5 C694.5,331.5 695.5,332.5 695.5,335.5 V384.5 C695.5,387.5 694.5,388.5 693.5,388.5 C691.5,388.5 690.5,387.5 690.5,384.5 Z" class="s" />
<path d="M692.5,343.5 H697.5 V376.5 H692.5" class="s" />
<line x1="683.2" y1="349.5" x2="692" y2="349.5" class="s" />
<line x1="683.2" y1="369.5" x2="692" y2="369.5" class="s" />
<path d="M703.5,332.5 C703.5,335.5 705.5,336.5 708.5,336.5 H786.5 C788.5,336.5 789.5,335.5 789.5,332.5" class="s" />
<path d="M703.5,387.5 C703.5,384.5 705.5,383.5 708.5,383.5 H786.5 C788.5,383.5 789.5,384.5 789.5,387.5" class="s" />
<path d="M793.5,328.5 H819.5 C820.5,328.5 821.5,329.5 821.5,331.5 V388.5 C821.5,390.5 820.5,391.5 819.5,391.5 H793.5 C791.5,391.5 790.5,390.5 790.5,388.5 V331.5 C790.5,329.5 791.5,328.5 793.5,328.5 Z" class="s" />
<path d="M821.5,115.5 L887.5,112.5 C905.5,112.5 919.5,126.5 919.5,143.5 V181.5 C919.5,184.5 921.5,186.5 924.5,187.5 C929.5,190.5 933.5,194.5 933.5,199.5 V447.5" class="s" />
<path d="M821.5,173.5 L840.5,175.5 L887.5,144.5" class="s" />
<line x1="841.5" y1="176.2" x2="888" y2="146.3" class="sl" />
<line x1="840.5" y1="175.3" x2="840.5" y2="322" class="s" />
<line x1="840.4" y1="181.5" x2="919.6" y2="181.5" class="s" />
<line x1="840.4" y1="188.5" x2="923" y2="188.5" class="s" />
<line x1="840.4" y1="200.5" x2="933.6" y2="200.5" class="s" />
<line x1="887.5" y1="104" x2="887.5" y2="386.7" class="s" />
<line x1="887.8" y1="144.5" x2="919.6" y2="144.5" class="s" />
<path d="M821.5,329.5 L836.5,328.5 C838.5,327.5 839.5,325.5 840.5,322.5 C847.5,332.5 852.5,345.5 853.5,359.5" class="s" />
<path d="M836.5,328.5 C841.5,337.5 844.5,348.5 845.5,359.5" class="s" />
<path d="M838.5,359.5 C838.5,371.5 833.5,382.5 824.5,389.5" class="s" />
<path d="M835.5,359.5 C835.5,370.5 830.5,380.5 823.5,387.5" class="sl" />
<line x1="825.5" y1="390" x2="825.5" y2="402" class="s" />
<path d="M825.5,401.5 C819.5,401.5 816.5,402.5 816.5,404.5 C816.5,406.5 819.5,408.5 825.5,408.5 L885.5,406.5 C887.5,406.5 888.5,405.5 888.5,404.5 C888.5,403.5 887.5,403.5 885.5,402.5 Z" class="s" />
<line x1="821" y1="404.7" x2="886" y2="404.4" class="sl" />
<path d="M825.5,413.5 C819.5,413.5 816.5,414.5 816.5,416.5 C816.5,418.5 819.5,420.5 825.5,420.5 L885.5,418.5 C887.5,418.5 888.5,417.5 888.5,416.5 C888.5,416.5 887.5,415.5 885.5,414.5 Z" class="s" />
<line x1="821" y1="416.8" x2="886" y2="416.5" class="sl" />
<path d="M825.5,425.5 C819.5,425.5 816.5,426.5 816.5,428.5 C816.5,430.5 819.5,432.5 825.5,432.5 L885.5,430.5 C887.5,430.5 888.5,429.5 888.5,428.5 C888.5,428.5 887.5,427.5 885.5,426.5 Z" class="s" />
<line x1="821" y1="428.8" x2="886" y2="428.5" class="sl" />
<path d="M825.5,437.5 C819.5,437.5 816.5,438.5 816.5,440.5 C816.5,442.5 819.5,444.5 825.5,444.5 L885.5,442.5 C887.5,442.5 888.5,441.5 888.5,440.5 C888.5,440.5 887.5,439.5 885.5,439.5 Z" class="s" />
<line x1="821" y1="440.9" x2="886" y2="440.6" class="sl" />
<path d="M825.5,408.5 C826.5,409.5 826.5,411.5 825.5,413.5" class="s" />
<path d="M825.5,420.5 C826.5,421.5 826.5,423.5 825.5,425.5" class="s" />
<path d="M825.5,432.5 C826.5,433.5 826.5,435.5 825.5,437.5" class="s" />
<path d="M825.5,444.5 C819.5,445.5 816.5,449.5 816.5,451.5 C816.5,454.5 819.5,457.5 825.5,458.5" class="s" />
<line x1="888.5" y1="416.8" x2="888.5" y2="440.9" class="s" />
<line x1="825.5" y1="447.5" x2="937" y2="447.5" class="s" />
<line x1="937.5" y1="447.5" x2="937.5" y2="487.6" class="s" />
<path d="M782.5,447.5 V455.5 C782.5,457.5 783.5,458.5 786.5,458.5 H923.5" class="s" />
<path d="M787.5,460.5 H923.5 V518.5 H787.5 Z" class="s" />
<line x1="787.2" y1="521.5" x2="923.2" y2="521.5" class="s" />
<path d="M787.5,518.5 C784.5,519.5 782.5,521.5 782.5,524.5 V532.5" class="s" />
<line x1="924.5" y1="470" x2="924.5" y2="497" class="sd" />
<line x1="935.5" y1="474" x2="935.5" y2="503" class="s" />
<line x1="924" y1="488.5" x2="963" y2="488.5" class="s" />
<line x1="924" y1="491.5" x2="964.5" y2="491.5" class="s" />
<circle cx="853" cy="477.4" r="3.5" class="s" />
<circle cx="907.6" cy="477.2" r="3.5" class="s" />
<circle cx="853" cy="500.5" r="5.3" class="thk15" />
<line x1="847" y1="500.5" x2="859" y2="500.5" class="s" />
<line x1="853.5" y1="494.5" x2="853.5" y2="506.5" class="s" />
<circle cx="853" cy="500.5" r="2.4" class="s" />
<circle cx="907.6" cy="500.5" r="5.3" class="thk15" />
<line x1="901.6" y1="500.5" x2="913.6" y2="500.5" class="s" />
<line x1="907.5" y1="494.5" x2="907.5" y2="506.5" class="s" />
<circle cx="907.6" cy="500.5" r="2.4" class="s" />
<line x1="838.5" y1="471" x2="838.5" y2="498" class="s" />
<line x1="887.5" y1="471" x2="887.5" y2="499" class="s" />
<circle cx="886" cy="508.4" r="6" class="s" />
<line x1="877" y1="508.5" x2="895" y2="508.5" class="s" />
<line x1="886.5" y1="499.4" x2="886.5" y2="517.4" class="s" />
<circle cx="949.7" cy="514.7" r="6.5" class="s" />
<line x1="941.2" y1="514.5" x2="958.2" y2="514.5" class="s" />
<line x1="949.5" y1="506.2" x2="949.5" y2="523.2" class="s" />
<path d="M821.5,521.5 V536.5 C821.5,539.5 823.5,541.5 827.5,541.5 H1124.5 C1127.5,541.5 1129.5,539.5 1129.5,535.5 V197.5" class="s" />
<path d="M824.5,519.5 V533.5 C824.5,536.5 826.5,538.5 829.5,538.5 H1122.5 C1125.5,538.5 1127.5,536.5 1127.5,532.5 V527.5 L1129.5,525.5" class="s" />
<rect x="827.5" y="541.5" width="18" height="2" class="s" />
<line x1="836.5" y1="530" x2="836.5" y2="546" class="s" />
<path d="M826.5,543.5 H1129.5 C1131.5,543.5 1133.5,545.5 1133.5,548.5 V574.5 C1133.5,577.5 1131.5,578.5 1129.5,578.5 H826.5 C823.5,578.5 822.5,577.5 822.5,574.5 V548.5 C822.5,545.5 823.5,543.5 826.5,543.5 Z" class="s" />
<line x1="826" y1="547.5" x2="1108" y2="547.5" class="dsh" />
<line x1="826" y1="576.5" x2="1108" y2="576.5" class="dsh" />
<line x1="826" y1="563.5" x2="939.5" y2="563.5" class="s" />
<line x1="959" y1="563.5" x2="978" y2="563.5" class="s" />
<line x1="997" y1="563.5" x2="1108" y2="563.5" class="s" />
<circle cx="840.3" cy="563.4" r="17.5" class="s" />
<line x1="840.5" y1="545" x2="840.5" y2="591" class="s" />
<circle cx="1090.5" cy="563.4" r="17.6" class="s" />
<line x1="1090.5" y1="545" x2="1090.5" y2="591" class="s" />
<line x1="1108.5" y1="546" x2="1108.5" y2="578" class="s" />
<line x1="1112.5" y1="546" x2="1112.5" y2="578" class="s" />
<path d="M1115.5,555.5 C1115.5,554.5 1116.5,553.5 1117.5,553.5 C1118.5,553.5 1119.5,554.5 1119.5,555.5 V567.5 C1119.5,569.5 1118.5,569.5 1117.5,569.5 C1116.5,569.5 1115.5,569.5 1115.5,567.5 Z" class="s" />
<line x1="1107" y1="561.5" x2="1132.5" y2="561.5" class="sd" />
<path d="M1133.5,556.5 H1154.5 C1160.5,556.5 1170.5,552.5 1175.5,551.5 C1177.5,551.5 1179.5,553.5 1179.5,556.5 C1179.5,558.5 1178.5,560.5 1176.5,561.5 L1155.5,566.5 H1133.5" class="s" />
<rect x="1042.5" y="541.5" width="17" height="2" class="s" />
<line x1="1051.5" y1="530" x2="1051.5" y2="550" class="s" />
<path d="M1001.5,367.5 V203.5 C1001.5,199.5 1003.5,197.5 1007.5,197.5 H1078.5" class="s" />
<path d="M1003.5,367.5 V206.5 C1003.5,203.5 1005.5,201.5 1008.5,201.5 H1078.5" class="s" />
<line x1="1001" y1="367.3" x2="963" y2="488.5" class="s" />
<line x1="1003.7" y1="367.8" x2="965" y2="491.1" class="s" />
<path d="M1055.5,221.5 L1072.5,204.5 H1081.5 M1055.5,221.5 V528.5 L1062.5,536.5 H1081.5" class="s" />
<line x1="1063" y1="221" x2="1063" y2="334" class="sl2" />
<line x1="1063" y1="353" x2="1063" y2="372" class="sl2" />
<line x1="1063" y1="390" x2="1063" y2="500" class="sl2" />
<line x1="1063" y1="523" x2="1063" y2="529.5" class="sl2" />
<circle cx="1024" cy="226" r="14" class="s" />
<line x1="1008" y1="226.5" x2="1040" y2="226.5" class="s" />
<line x1="1024.5" y1="210" x2="1024.5" y2="242" class="s" />
<circle cx="1020" cy="444.2" r="17.5" class="s" />
<line x1="1001" y1="444.5" x2="1039" y2="444.5" class="s" />
<line x1="1020.5" y1="425.2" x2="1020.5" y2="463.2" class="s" />
<circle cx="1063" cy="255.6" r="4.5" class="sd" />
<circle cx="1063" cy="255.6" r="2" class="sd" />
<line x1="1052" y1="255.5" x2="1074" y2="255.5" class="sd" />
<line x1="1063.5" y1="244.6" x2="1063.5" y2="266.6" class="sd" />
<circle cx="1063.2" cy="491" r="3.5" class="sd" />
<circle cx="1063.2" cy="491" r="1.6" class="sd" />
<line x1="1055.2" y1="491.5" x2="1071.2" y2="491.5" class="sd" />
<line x1="1063.5" y1="483" x2="1063.5" y2="499" class="sd" />
<path d="M1097.8,222.6 Q1102,222.6 1102,218.4 Q1102,222.6 1106.2,222.6 Q1102,222.6 1102,226.8 Q1102,222.6 1097.8,222.6 Z" class="starf" />
<path d="M1043.1,292.9 Q1047.3,292.9 1047.3,288.7 Q1047.3,292.9 1051.5,292.9 Q1047.3,292.9 1047.3,297.1 Q1047.3,292.9 1043.1,292.9 Z" class="starf" />
<path d="M1097.8,363.5 Q1102,363.5 1102,359.3 Q1102,363.5 1106.2,363.5 Q1102,363.5 1102,367.7 Q1102,363.5 1097.8,363.5 Z" class="starf" />
<path d="M1016.8,302.2 Q1021,302.2 1021,298 Q1021,302.2 1025.2,302.2 Q1021,302.2 1021,306.4 Q1021,302.2 1016.8,302.2 Z" class="starf" />
<path d="M1107.8,302.2 Q1112,302.2 1112,298 Q1112,302.2 1116.2,302.2 Q1112,302.2 1112,306.4 Q1112,302.2 1107.8,302.2 Z" class="starf" />
<line x1="1102" y1="222.6" x2="1102" y2="235" class="sl2" />
<line x1="1102" y1="255" x2="1102" y2="363.5" class="sl2" />
<line x1="1021" y1="302.5" x2="1112" y2="302.5" class="s" />
<line x1="1080.5" y1="82" x2="1080.5" y2="536.6" class="s" />
<line x1="1081.5" y1="84" x2="1081.5" y2="530" class="dsh4" />
<line x1="1119.5" y1="88" x2="1119.5" y2="507.7" class="s" />
<line x1="1078.5" y1="82" x2="1078.5" y2="198" class="s" />
<path d="M1113.5,80.5 L1119.5,88.5" class="s" />
<line x1="1049" y1="80.5" x2="1148" y2="80.5" class="s" />
<path d="M1048.5,81.5 V83.5 H1078.5" class="s" />
<line x1="1146.5" y1="80.5" x2="1146.5" y2="178" class="s" />
<line x1="1146.7" y1="178" x2="1119.4" y2="186.8" class="s" />
<line x1="1114" y1="82.5" x2="1146.7" y2="82.5" class="dsh" />
<line x1="1148.5" y1="72.5" x2="1148.5" y2="80.5" class="s" />
<circle cx="1073.8" cy="95.2" r="3.4" class="sd" />
<rect x="1070" y="93" width="7.5" height="4.4" class="nut" />
<line x1="1070" y1="95.5" x2="1078" y2="95.5" class="s" />
<line x1="1078.5" y1="95.5" x2="1082.5" y2="95.5" class="sd" />
<circle cx="1073.8" cy="185.1" r="3.4" class="sd" />
<rect x="1070" y="182.9" width="7.5" height="4.4" class="nut" />
<line x1="1070" y1="185.5" x2="1078" y2="185.5" class="s" />
<line x1="1078.5" y1="185.5" x2="1082.5" y2="185.5" class="sd" />
<path d="M1058,197.5 L1060.5,193.5 H1067.5 L1070,197.5 Z" class="nutf" />
<line x1="1064.5" y1="188.5" x2="1064.5" y2="193.5" class="sd" />
<path d="M1080.5,514.5 H1111.5 L1119.5,507.5" class="s" />
<path d="M1119.5,197.5 H1141.5 L1143.5,199.5 V536.5 C1143.5,539.5 1141.5,541.5 1138.5,541.5 H1130.5 V197.5" class="s15" />
<line x1="1119.4" y1="200.5" x2="1130" y2="200.5" class="s" />
<line x1="1141.5" y1="203" x2="1141.5" y2="535" class="dsh2" /></svg></body></html>
